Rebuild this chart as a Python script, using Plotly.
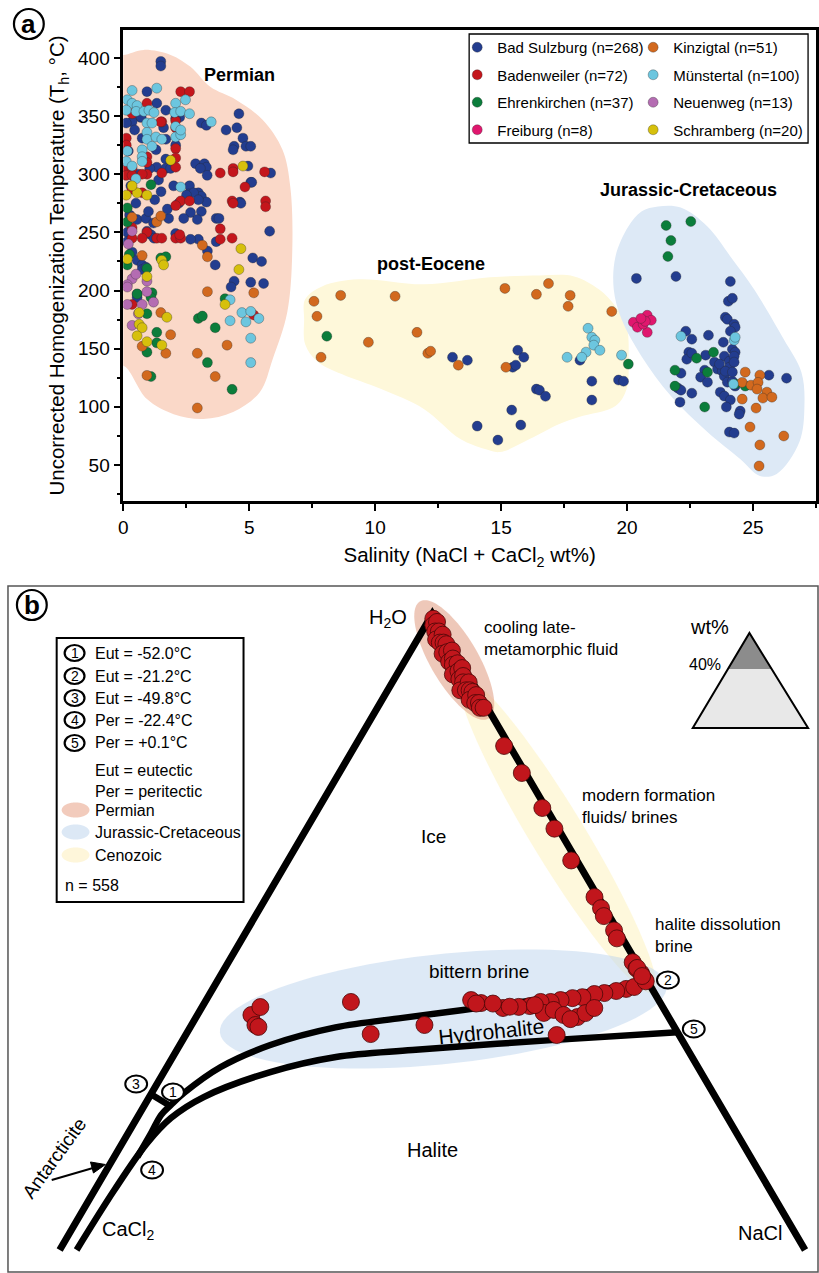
import numpy as np
import plotly.graph_objects as go

W, H = 819, 1273
FONT = "Liberation Sans, Arial, Helvetica, sans-serif"

# ---------------- Panel a data: salinity (wt%) and Th (°C) ----------------
bad_sulzburg_x = [1.49, 1.49, 0.94, 1.33, 1.69, 2.24, 2.08, 0.67, 0.35, 0.12, 0.71, 0.75, 1.69, 1.30, 2.08, 1.69,
                  3.10, 3.30, 4.08, 4.51, 4.59, 4.40, 4.36, 4.75, 4.87, 5.06, 2.87, 3.22, 3.30, 3.06, 3.33, 4.95,
                  5.85, 5.06, 1.33, 1.69, 1.88, 2.63, 2.59, 2.98, 3.10, 2.79, 2.51, 3.30, 2.98, 2.67, 3.10, 2.94,
                  5.10, 4.63, 4.67, 3.69, 3.80, 5.81, 2.98, 3.69, 3.34, 3.65, 5.14, 5.49, 4.40, 4.28, 5.06, 5.57,
                  0.16, 0.16, 0.55, 0.35, 0.55, 0.75, 0.75, 0.90, 0.55, 0.55, 0.94, 1.10, 1.22, 2.08, 2.67, 0.30,
                  0.50, 0.90, 1.20, 1.00, 0.60, 1.40, 1.80, 2.20, 2.00, 1.50, 0.20, 0.45, 1.60, 1.05, 0.25, 1.75,
                  2.40, 1.25,
                  13.07, 13.66, 15.66, 15.90, 15.46, 15.58, 16.40, 16.52, 16.76, 18.13, 18.60, 19.66, 19.86, 18.60,
                  15.42, 14.05, 15.78, 14.87,
                  20.37, 21.94, 24.10, 24.02, 24.18, 23.90, 23.98, 24.25, 24.29, 24.10, 22.33, 22.57, 23.23, 23.82,
                  24.18, 24.29, 23.86, 24.06, 24.25, 22.45, 22.37, 22.57, 23.12, 23.47, 23.59, 23.78, 23.08, 22.92,
                  23.19, 23.86, 23.98, 24.18, 24.29, 22.14, 22.02, 22.14, 22.57, 22.10, 23.70, 23.86, 24.10, 23.94,
                  24.49, 24.45, 24.06, 24.25, 25.63, 26.33, 23.67, 24.06, 24.25, 23.90, 24.18]
bad_sulzburg_y = [397, 393, 371, 361, 355, 349, 348, 349, 345, 344, 349, 331, 330, 321, 325, 313,
                  344, 342, 338, 340, 352, 324, 321, 331, 324, 324, 309, 309, 306, 305, 299, 307,
                  301, 293, 306, 305, 305, 290, 283, 284, 281, 284, 282, 276, 278, 267, 268, 261,
                  293, 276, 275, 262, 262, 251, 244, 242, 234, 222, 228, 225, 208, 203, 207, 206,
                  250, 242, 261, 233, 226, 222, 218, 220, 197, 194, 251, 248, 245, 249, 244, 290,
                  275, 262, 258, 268, 300, 295, 262, 275, 290, 285, 320, 338, 340, 305, 265, 270,
                  262, 278,
                  142.6, 140, 148.6, 142.6, 134, 135.8, 115.2, 114.3, 109, 140, 122, 123, 122, 105.8,
                  97.2, 83.4, 84.3, 71.4,
                  210.4, 212.1, 207.8, 190.7, 193.3, 177, 175.2, 171, 168.4, 165, 165, 158.1, 161.5, 155.5,
                  149.5, 146.9, 143.5, 139.2, 143.5, 146.9, 140.9, 146.1, 144.4, 138.4, 132.4, 130.6, 131.5, 125.5,
                  121.2, 126.3, 121.2, 122, 117.8, 128.9, 116, 114.3, 111.7, 104, 112.6, 109.2, 105.8, 99.8,
                  96.3, 93.7, 78.3, 77.4, 127.2, 124.6, 136.7, 134, 138.4, 130.6, 129.8]

badenweiler_x = [2.28, 2.63, 0.35, 0.94, 1.53, 1.49, 2.08, 2.08, 2.08, 2.08, 0.12, 0.12, 0.94, 0.94, 0.94, 2.08,
                 3.85, 4.36, 4.36, 5.61, 4.83, 0.12, 0.35, 0.12, 0.35, 0.75, 1.53, 0.35, 0.75, 2.28, 2.08, 2.63,
                 4.32, 4.36, 5.65, 5.65, 3.85, 3.85, 4.32, 0.35, 0.94, 0.75, 0.35, 1.33, 1.53, 2.08, 2.28, 2.24,
                 0.35, 5.18]
badenweiler_y = [371, 371, 352, 361, 345, 345, 346, 340, 322, 306, 331, 325, 315, 310, 300, 314,
                 301, 305, 302, 302, 289, 306, 305, 299, 299, 300, 301, 287, 284, 277, 273, 277,
                 277, 275, 277, 272, 253, 244, 245, 254, 250, 245, 245, 245, 245, 245, 245, 248,
                 188, 179]

ehrenkirchen_x = [1.10, 0.16, 0.24, 0.16, 0.94, 1.14, 1.10, 0.55, 0.94, 1.33, 1.33, 0.94, 1.10, 1.49, 1.69, 4.04,
                  2.98, 3.14, 3.65, 3.34, 4.32, 0.16,
                  8.08, 20.05,
                  21.55, 22.53, 21.74, 21.62, 22.76, 23.43, 21.90, 21.90, 23.08, 23.19, 24.29, 24.69]
ehrenkirchen_y = [291, 259, 231, 222, 219, 198, 194, 197, 180, 164, 155, 147, 126, 228, 229, 193,
                  176, 178, 168, 138, 115, 271,
                  160.7, 136.7,
                  255.9, 259.3, 243, 229.3, 141.8, 146.9, 131.5, 117.8, 99.8, 129.8, 119.5, 117.8]

freiburg_x = [20.25, 20.41, 20.80, 20.96, 20.80, 20.64, 20.72, 20.55]
freiburg_y = [172.7, 168.4, 178.7, 174.4, 164, 171, 173.5, 176]

kinzigtal_x = [0.35, 1.33, 1.49, 0.75, 1.49, 1.88, 0.75, 1.69, 0.94, 3.14, 3.34, 3.34, 5.18, 4.12, 2.94, 3.65, 2.94,
               7.57, 8.63, 7.69, 7.85, 10.79, 9.73, 11.66, 12.09, 12.20, 13.30, 15.15, 16.40, 16.88, 17.74, 17.66,
               19.39, 15.19,
               24.69, 25.27, 24.57, 24.92, 25.20, 25.16, 25.55, 25.39, 25.75, 24.57, 25.12, 24.88, 25.27, 26.22,
               25.24]
kinzigtal_y = [263, 259, 264, 230, 181, 162, 152, 146, 127, 239, 229, 199, 198, 153, 146, 126, 99,
               190.7, 195.8, 177.8, 142.6, 195, 155.5, 164, 146, 147.8, 135.8, 201.8, 196.7, 206, 195.8, 186.4,
               182, 134,
               129.8, 127.2, 121, 118.6, 121, 115.2, 112.6, 107.5, 108.3, 106.6, 98.9, 82.6, 67.2, 74.9,
               49.1]

muenstertal_x = [0.35, 1.33, 0.16, 0.35, 0.55, 2.08, 2.47, 0.12, 0.51, 0.82, 1.02, 1.22, 2.04, 2.28, 2.63, 0.94,
                 1.14, 0.94, 0.94, 1.14, 1.30, 1.53, 2.08, 2.28, 0.75, 0.75, 0.75, 0.12, 0.35, 3.49, 2.28, 4.24,
                 4.24, 4.71, 5.06, 4.87, 5.38, 5.06, 5.06, 2.08, 2.28, 0.16, 0.50,
                 18.45, 18.60, 18.72, 18.68, 18.92, 18.37, 18.20, 17.62, 19.78,
                 22.14, 24.25, 24.29, 24.22]
muenstertal_y = [372, 374, 364, 361, 359, 361, 364, 355, 354, 354, 355, 353, 353, 354, 352, 344,
                 344, 336, 330, 324, 332, 330, 332, 334, 321, 315, 311, 311, 307, 345, 289, 192,
                 174, 181, 182, 173, 176, 159, 138, 341, 338, 320, 296,
                 167.5, 159.8, 157.2, 153, 148.6, 147, 142.6, 142.6, 144.4,
                 160.7, 157.2, 159.8, 119.5]

neuenweg_x = [0.35, 0.35, 0.16, 0.16, 0.94, 0.94, 0.16, 0.75, 0.35, 0.50, 0.20, 1.20, 0.60]
neuenweg_y = [251, 210, 205, 203, 208, 199, 188, 188, 170, 214, 240, 190, 180]

schramberg_x = [1.88, 4.75, 0.12, 0.55, 0.94, 0.16, 1.53, 0.94, 4.67, 4.59, 4.04, 0.63, 0.63, 0.75, 0.55, 0.94,
                1.53, 1.73, 0.35, 1.60]
schramberg_y = [312, 307, 282, 284, 282, 227, 226, 212, 236, 218, 188, 181, 171, 168, 161, 156,
                153, 177, 290, 222]

series_names = ["Bad Sulzburg (n=268)", "Badenweiler (n=72)", "Ehrenkirchen (n=37)", "Freiburg (n=8)",
                "Kinzigtal (n=51)", "Münstertal (n=100)", "Neuenweg (n=13)", "Schramberg (n=20)"]
series_x = [bad_sulzburg_x, badenweiler_x, ehrenkirchen_x, freiburg_x,
            kinzigtal_x, muenstertal_x, neuenweg_x, schramberg_x]
series_y = [bad_sulzburg_y, badenweiler_y, ehrenkirchen_y, freiburg_y,
            kinzigtal_y, muenstertal_y, neuenweg_y, schramberg_y]
series_colors = ["#233D8F", "#C4161C", "#0B7D3B", "#E0176E", "#D2691E", "#6CC6DF", "#B46CB2", "#D6C00C"]

# Outlines of the three age groups (salinity, Th)
permian_x = [-0.4, 0.0, 0.82, 1.88, 2.67, 3.45, 4.47, 5.53, 6.32, 6.63, 6.71, 6.51, 5.93, 5.42, 4.36, 3.18, 2.0,
             0.94, 0.04, -0.4]
permian_y = [404, 402.6, 406.9, 402.6, 392.3, 375.1, 364, 346.8, 321, 289.3, 235.3, 181.2, 140.9, 112.6, 95.5,
             89.5, 93.7, 106.6, 134.9, 134]
eocene_x = [7.22, 7.89, 9.34, 11.93, 14.56, 16.52, 17.90, 18.88, 19.54, 19.98, 20.06, 19.98, 19.54, 18.09, 17.31,
            16.13, 14.95, 14.36, 13.38, 11.93, 10.24, 8.67, 7.69, 7.22, 7.18]
eocene_y = [192.4, 203.5, 209.6, 205.3, 211.3, 213, 212.1, 201, 186.4, 169.2, 140.9, 115.2, 100.6, 91.2, 85.2,
            72.3, 61.1, 63.7, 72.3, 98.2, 115.2, 128.1, 139.2, 153.8, 175.2]
jurassic_x = [21.23, 22.13, 23.19, 24.10, 25.04, 26.22, 26.92, 27.04, 26.84, 25.94, 25.27, 24.49, 23.19, 21.74,
              20.57, 19.78, 19.47, 19.54, 20.05, 20.57]
jurassic_y = [272.2, 271.3, 255, 229.3, 201, 158.1, 129.8, 100.6, 69.7, 42.3, 40.6, 55.1, 78.3, 109.2,
              143.5, 175.2, 201, 229.3, 255, 267.9]

# ---------------- Panel b data: compositions (wt% NaCl, wt% CaCl2) ----------------
late_meta_nacl = [0.2, 0.4, 0.5, 0.7, 0.9, 1.0, 1.2, 1.3, 1.5, 1.7, 1.8, 2.0, 2.2, 2.4, 2.5, 2.7, 2.9, 3.0, 3.2,
                  3.3, 3.5, 3.6, 3.8, 3.9, 4.1, 4.2, 4.4, 4.6, 4.7, 4.9, 5.1, 5.3, 5.5, 5.7]
late_meta_cacl2 = [0.1, 0.3, 0.0, 0.4, 0.2, 0.6, 0.1, 0.5, 0.3, 0.2, 0.7, 0.4, 0.1, 0.6, 0.3, 0.5, 0.2, 0.8, 0.4,
                   0.1, 0.6, 0.3, 0.5, 0.9, 0.2, 0.6, 0.4, 0.3, 0.7, 0.2, 0.5, 0.3, 0.4, 0.2]
formation_nacl = [8.0, 9.8, 12.0, 13.3, 15.2, 17.6, 18.3, 18.7, 19.7, 20.1, 21.7, 22.1, 22.5, 22.9]
formation_cacl2 = [0.3, 0.2, 0.2, 0.2, 0.3, 0.2, 0.2, 0.3, 0.2, 0.3, 0.2, 0.2, 0.1, 0.1]
bittern_nacl = [22.19, 22.56, 23.0, 21.72, 21.15, 20.64, 20.10, 19.60, 19.02, 18.55, 18.01, 17.56, 16.99, 16.18,
                14.85, 14.22, 18.52, 18.96, 19.65, 20.46, 20.76, 21.08, 20.15, 19.91, 12.50, 2.90, 3.13, 3.43,
                3.65, 7.83, 9.90, 22.12, 22.64, 15.5, 16.5, 17.8, 14.6]
bittern_cacl2 = [1.39, 0.90, 0.10, 1.99, 2.69, 3.26, 4.00, 4.56, 5.26, 5.85, 6.39, 7.10, 7.72, 8.60,
                 9.62, 10.06, 6.57, 5.94, 5.57, 4.89, 4.34, 3.70, 5.33, 6.57, 13.35, 22.32, 21.59, 22.42,
                 22.32, 16.57, 16.52, 0.14, 0.13, 9.0, 8.2, 6.8, 9.9]

# Phase boundaries (wt% NaCl, wt% CaCl2)
edge_nacl = [0, 0, 40]
edge_cacl2 = [40, 0, 0]
cotectic_ice_nacl = [23.0, 20.89, 17.0, 14.1, 11.1, 7.8, 4.86, 2.89, 1.73, 1.41, 1.2, 1.23, 1.24]
cotectic_ice_cacl2 = [0.0, 2.76, 7.4, 10.8, 14.3, 18.2, 22.25, 25.6, 28.4, 29.47, 30.3, 31.4, 32.9]
cotectic_hh_nacl = [26.3, 19.8, 12.64, 8.76, 5.71, 2.92, 1.82, 1.33, 1.05, 0.91]
cotectic_hh_cacl2 = [0.0, 7.0, 14.78, 19.1, 23.1, 27.46, 29.88, 31.95, 35.18, 39.09]
eutectic_tie_nacl = [0.0, 1.47]
eutectic_tie_cacl2 = [30.2, 29.5]

legend_b_lines = ["Eut = -52.0°C", "Eut = -21.2°C", "Eut = -49.8°C", "Per = -22.4°C", "Per = +0.1°C"]


def tern(nacl, cacl2):
    """Project H2O-NaCl-CaCl2 compositions onto the diagram plane."""
    nacl = np.asarray(nacl, float)
    cacl2 = np.asarray(cacl2, float)
    return (nacl - cacl2) / 2.0, -(nacl + cacl2)


def P(px, py):
    return px / W, 1 - py / H


fig = go.Figure()

# age-group envelopes
for bx, by, col in [(permian_x, permian_y, "#FAD8C8"), (eocene_x, eocene_y, "#FEF8DA"),
                    (jurassic_x, jurassic_y, "#DDE9F6")]:
    fig.add_trace(go.Scatter(x=bx + [bx[0]], y=by + [by[0]], mode="lines", fill="toself", fillcolor=col,
                             line=dict(width=0, shape="spline", smoothing=1.0, color=col),
                             hoverinfo="skip", showlegend=False))

for i, (nm, xs, ys, col) in enumerate(zip(series_names, series_x, series_y, series_colors)):
    fig.add_trace(go.Scatter(x=xs, y=ys, mode="markers", name=nm, legendgroup=nm,
                             legend="legend" if i < 4 else "legend2",
                             marker=dict(size=10, color=col, line=dict(width=0.6, color="rgba(40,40,40,0.55)"))))

# ---------------- Panel b traces ----------------
ex, ey = tern(edge_nacl, edge_cacl2)
for nx_, cx_, shp in [(cotectic_ice_nacl, cotectic_ice_cacl2, "spline"),
                      (cotectic_hh_nacl, cotectic_hh_cacl2, "spline"),
                      (eutectic_tie_nacl, eutectic_tie_cacl2, "linear")]:
    lx, ly = tern(nx_, cx_)
    fig.add_trace(go.Scatter(x=lx, y=ly, xaxis="x2", yaxis="y2", mode="lines",
                             line=dict(color="black", width=6.5, shape=shp), showlegend=False, hoverinfo="skip"))
fig.add_trace(go.Scatter(x=ex, y=ey, xaxis="x2", yaxis="y2", mode="lines",
                         line=dict(color="black", width=7), showlegend=False, hoverinfo="skip"))

pts_nacl = late_meta_nacl + formation_nacl + bittern_nacl
pts_cacl2 = late_meta_cacl2 + formation_cacl2 + bittern_cacl2
qx, qy = tern(pts_nacl, pts_cacl2)
fig.add_trace(go.Scatter(x=qx, y=qy, xaxis="x2", yaxis="y2", mode="markers", showlegend=False,
                         marker=dict(size=17, color="#C1161C", line=dict(width=0.8, color="#4a0808"))))

# ---------------- shapes ----------------
shapes = []


def ellipse_path(cx, cy, a, b, ang):
    t = np.linspace(0, 2 * np.pi, 90, endpoint=False)
    ca, sa = np.cos(np.radians(ang)), np.sin(np.radians(ang))
    xs = cx + a * np.cos(t) * ca - b * np.sin(t) * sa
    ys = cy + a * np.cos(t) * sa + b * np.sin(t) * ca
    pts = [P(x, y) for x, y in zip(xs, ys)]
    return "M " + " L ".join(f"{x:.5f},{y:.5f}" for x, y in pts) + " Z"


def poly_path(pts, close=True):
    pp = [P(x, y) for x, y in pts]
    return "M " + " L ".join(f"{x:.5f},{y:.5f}" for x, y in pp) + (" Z" if close else "")


for (cx, cy, a, b, ang, col) in [(556, 835, 185, 27, 58.5, "rgba(253,241,185,0.5)"),
                                 (441, 1009, 226, 55, -6, "rgba(187,211,237,0.5)"),
                                 (452, 660, 68, 24, 59.5, "rgba(227,163,138,0.6)")]:
    shapes.append(dict(type="path", path=ellipse_path(cx, cy, a, b, ang), xref="paper", yref="paper",
                       fillcolor=col, line=dict(width=0), layer="below"))

# panel b frame
x0, y0 = P(3, 586)
x1, y1 = P(818, 1272)
shapes.append(dict(type="rect", xref="paper", yref="paper", x0=x0, y0=y0, x1=x1, y1=y1,
                   line=dict(color="#555555", width=1.5)))
# panel a legend frame
x0, y0 = P(467, 34)
x1, y1 = P(808, 143)
shapes.append(dict(type="rect", xref="paper", yref="paper", x0=x0, y0=y0, x1=x1, y1=y1,
                   line=dict(color="black", width=1.3)))
# panel b legend frame
x0, y0 = P(52, 638)
x1, y1 = P(240, 902)
shapes.append(dict(type="rect", xref="paper", yref="paper", x0=x0, y0=y0, x1=x1, y1=y1,
                   line=dict(color="black", width=2), fillcolor="white"))

# inset triangle showing the 40 wt% cut
shapes.append(dict(type="path", xref="paper", yref="paper", path=poly_path([(692, 728), (749, 633), (808, 728)]),
                   fillcolor="#E8E8E8", line=dict(width=0)))
shapes.append(dict(type="path", xref="paper", yref="paper", path=poly_path([(727, 669), (749, 633), (771, 669)]),
                   fillcolor="#8C8C8C", line=dict(width=0)))
shapes.append(dict(type="path", xref="paper", yref="paper", path=poly_path([(692, 728), (749, 633), (808, 728)]),
                   fillcolor="rgba(0,0,0,0)", line=dict(color="black", width=2)))

# antarcticite pointer
shapes.append(dict(type="path", xref="paper", yref="paper", path=poly_path([(47, 1180), (92, 1167)], close=False),
                   line=dict(color="black", width=2)))
shapes.append(dict(type="path", xref="paper", yref="paper",
                   path=poly_path([(101, 1164.5), (86, 1162), (89, 1173)]),
                   fillcolor="black", line=dict(color="black", width=1)))

annotations = []


def circled(px, py, txt, rx, ry, size, lw=2, bold=False):
    a0, b0 = P(px - rx, py + ry)
    a1, b1 = P(px + rx, py - ry)
    shapes.append(dict(type="circle", xref="paper", yref="paper", x0=a0, y0=b0, x1=a1, y1=b1,
                       fillcolor="white", line=dict(color="black", width=lw)))
    xx, yy = P(px, py)
    annotations.append(dict(x=xx, y=yy, xref="paper", yref="paper", text=f"<b>{txt}</b>" if bold else txt,
                            showarrow=False, xanchor="center", yanchor="middle",
                            font=dict(family=FONT, size=size, color="black")))


def label(px, py, txt, size, anchor="center", angle=0):
    xx, yy = P(px, py)
    annotations.append(dict(x=xx, y=yy, xref="paper", yref="paper", text=txt, showarrow=False,
                            xanchor=anchor, yanchor="middle", textangle=angle, align="left",
                            font=dict(family=FONT, size=size, color="black")))


# panel labels
circled(24, 24, "a", 15, 15, 26, lw=2.2, bold=True)
circled(27, 605, "b", 15, 15, 26, lw=2.2, bold=True)

# panel a group labels
label(236, 75, "<b>Permian</b>", 18)
label(429, 264, "<b>post-Eocene</b>", 18)
label(688, 190, "<b>Jurassic-Cretaceous</b>", 18)

# panel b text
label(385, 618, "H<sub>2</sub>O", 20)
label(480, 639, "cooling late-<br>metamorphic fluid", 17, anchor="left")
label(687, 627, "wt%", 20, anchor="left")
label(686, 664, "40%", 16, anchor="left")
label(579, 806, "modern formation<br>fluids/ brines", 17, anchor="left")
label(431, 836, "Ice", 19)
label(652, 935, "halite dissolution<br>brine", 17, anchor="left")
label(477, 971, "bittern brine", 19)
label(489, 1031, "Hydrohalite", 21, angle=-6)
label(430, 1150, "Halite", 20)
label(124, 1230, "CaCl<sub>2</sub>", 20)
label(760, 1233, "NaCl", 20)
label(49, 1158, "Antarcticite", 19, angle=-54)

# invariant points on the diagram
for (px, py, d) in [(169, 1092, "1"), (667, 980, "2"), (132, 1084, "3"), (148, 1170, "4"), (693, 1029, "5")]:
    circled(px, py, d, 11, 8.5, 14)

# panel b key
for k, (txt, row) in enumerate(zip(legend_b_lines, [653, 676, 698, 720, 743])):
    circled(70, row, str(k + 1), 10, 8, 14, lw=2.2)
    label(89, row, txt, 16, anchor="left")
label(89, 770, "Eut = eutectic", 16, anchor="left")
label(89, 791, "Per = peritectic", 16, anchor="left")
for row, txt, col in [(810, "Permian", "#F2CBBC"), (832, "Jurassic-Cretaceous", "#DCE8F5"),
                      (855, "Cenozoic", "#FEF6DA")]:
    shapes.append(dict(type="path", xref="paper", yref="paper", path=ellipse_path(71, row, 14, 7.5, 0),
                       fillcolor=col, line=dict(width=0)))
    label(89, row, txt, 16, anchor="left")
label(58, 885, "n = 558", 16, anchor="left")

legend_common = dict(yanchor="top", xanchor="left", bgcolor="rgba(0,0,0,0)", borderwidth=0,
                     font=dict(family=FONT, size=15, color="black"), tracegroupgap=5, traceorder="grouped",
                     itemwidth=30)

tick_font = dict(family=FONT, size=19, color="black")
title_font = dict(family=FONT, size=20.5, color="black")
fig.update_layout(
    width=W, height=H, margin=dict(l=0, r=0, t=0, b=0),
    paper_bgcolor="white", plot_bgcolor="rgba(0,0,0,0)",
    font=dict(family=FONT, color="black"),
    xaxis=dict(domain=[119 / W, 816 / W], range=[0, 27.5], dtick=5, tick0=0, ticks="outside", ticklen=7,
               tickwidth=2, tickcolor="black", showline=True, linewidth=2.5, linecolor="black", mirror=True,
               showgrid=False, zeroline=False, tickfont=tick_font,
               minor=dict(dtick=2.5, ticks="outside", ticklen=4, tickwidth=2, tickcolor="black"),
               title=dict(text="Salinity (NaCl + CaCl<sub>2</sub> wt%)", font=title_font, standoff=12)),
    yaxis=dict(domain=[1 - 501 / H, 1 - 30 / H], range=[19, 424], dtick=50, tick0=0, ticks="outside", ticklen=7,
               tickwidth=2, tickcolor="black", showline=True, linewidth=2.5, linecolor="black", mirror=True,
               showgrid=False, zeroline=False, tickfont=tick_font,
               minor=dict(dtick=25, ticks="outside", ticklen=4, tickwidth=2, tickcolor="black"),
               title=dict(text="Uncorrected Homogenization Temperature (T<sub>h</sub>, °C)", font=title_font,
                          standoff=8)),
    xaxis2=dict(domain=[0, 1], range=[-22.933, 20.747], visible=False, fixedrange=True),
    yaxis2=dict(domain=[0, 1 - 585 / H], range=[-41.447, 1.824], visible=False, fixedrange=True),
    legend=dict(x=455 / W, y=1 - 31 / H, **legend_common),
    legend2=dict(x=632 / W, y=1 - 31 / H, **legend_common),
    shapes=shapes, annotations=annotations,
)

fig.write_html("out.html")
